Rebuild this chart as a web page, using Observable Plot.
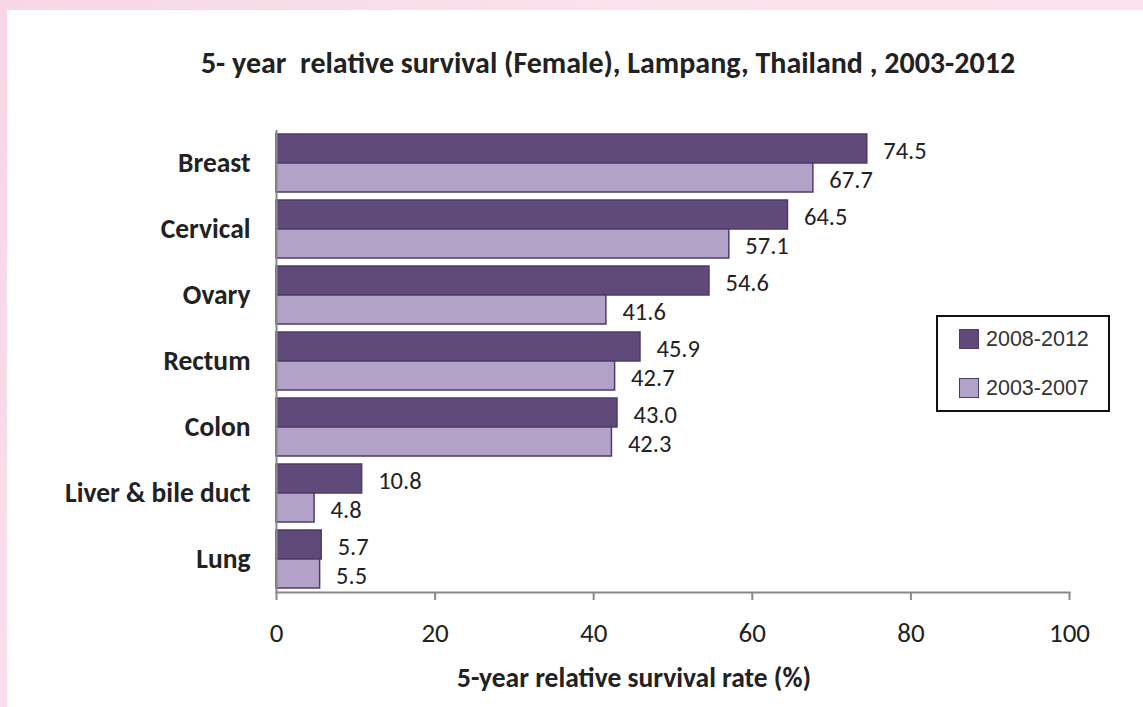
<!DOCTYPE html>
<html>
<head>
<meta charset="utf-8">
<script src="https://cdn.jsdelivr.net/npm/d3@7"></script>
<script src="https://cdn.jsdelivr.net/npm/@observablehq/plot@0.6"></script>
<style>
  html, body { margin: 0; padding: 0; }
  body {
    width: 1143px; height: 707px; overflow: hidden; position: relative;
    background: linear-gradient(120deg, #f8d6e5 0%, #fbe3ee 45%, #fbe0ec 100%);
    font-family: Carlito, Calibri, Lato, "Noto Sans", sans-serif;
  }
  #panel {
    position: absolute; left: 7px; top: 10px; width: 1136px; height: 697px;
    background: #ffffff;
  }
  #title {
    height: 90px; box-sizing: border-box; padding-top: 38px; padding-left: 66px;
    line-height: 30px; font-size: 30px; font-weight: bold; color: #222;
    text-align: center; white-space: pre;
  }
  #xlabel {
    position: absolute; top: 653px; left: 627px; transform: translateX(-50%);
    line-height: 30px; font-size: 27.5px; font-weight: bold; color: #222;
    white-space: nowrap;
  }
  #legend {
    position: absolute; left: 929px; top: 305px; width: 174px; height: 97px;
    box-sizing: border-box; border: 2px solid #111; background: #fff;
    font-family: "Liberation Sans", Arial, sans-serif; font-size: 21.5px; color: #333;
  }
  .item { position: absolute; left: 21px; height: 22px; line-height: 22px; white-space: nowrap; }
  .item span.sw {
    display: inline-block; width: 20px; height: 20px; vertical-align: -3px;
    box-sizing: border-box; border: 1.5px solid #4e3a6c; margin-right: 7px;
  }
</style>
</head>
<body>
<div id="panel">
  <div id="title"></div>
  <div id="chart"></div>
  <div id="xlabel"></div>
  <div id="legend"></div>
</div>
<script>
// Cancer sites, top to bottom
const cancers = ["Breast", "Cervical", "Ovary", "Rectum", "Colon", "Liver & bile duct", "Lung"];
// Diagnosis periods
const periods = ["2008-2012", "2003-2007"];
// 5-year relative survival (%) per site, by period
const survival2008_2012 = [74.5, 64.5, 54.6, 45.9, 43.0, 10.8, 5.7];
const survival2003_2007 = [67.7, 57.1, 41.6, 42.7, 42.3, 4.8, 5.5];
// Axis ticks
const xTicks = [0, 20, 40, 60, 80, 100];

const titleText = "5- year  relative survival (Female), Lampang, Thailand , 2003-2012";
const xLabelText = "5-year relative survival rate (%)";

const darkFill = "#5f4a7a";
const lightFill = "#b2a2c8";
const barStroke = "#4e3a6c";

const rows = cancers.flatMap((c, i) => [
  {cancer: c, period: periods[0], value: survival2008_2012[i]},
  {cancer: c, period: periods[1], value: survival2003_2007[i]}
]);

document.getElementById("title").textContent = titleText;
document.getElementById("xlabel").textContent = xLabelText;

const legend = document.getElementById("legend");
[darkFill, lightFill].forEach((col, i) => {
  const it = document.createElement("div");
  it.className = "item";
  it.style.top = (i === 0 ? 11 : 60) + "px";
  const sw = document.createElement("span");
  sw.className = "sw";
  sw.style.background = col;
  it.appendChild(sw);
  it.appendChild(document.createTextNode(periods[i]));
  legend.appendChild(it);
});

const chart = Plot.plot({
  width: 1136,
  height: 555,
  marginLeft: 269,
  marginRight: 74,
  marginTop: 27,
  marginBottom: 61,
  style: {fontFamily: "Carlito, Calibri, Lato, 'Noto Sans', sans-serif", background: "transparent"},
  x: {domain: [0, 100]},
  fy: {domain: cancers, padding: 0},
  y: {domain: periods, paddingInner: 0, paddingOuter: 0.13, axis: null},
  color: {domain: periods, range: [darkFill, lightFill]},
  marks: [
    Plot.barX(rows, {
      x: "value", y: "period", fy: "cancer",
      fill: "period", stroke: barStroke, strokeWidth: 1.5
    }),
    Plot.text(rows, {
      x: "value", y: "period", fy: "cancer",
      text: d => d.value.toFixed(1),
      textAnchor: "start", dx: 16, dy: 2,
      fontSize: 24.5, fill: "#222"
    }),
    Plot.ruleX([0], {stroke: "#888", strokeWidth: 2}),
    Plot.frame({anchor: "bottom", facetAnchor: "bottom", stroke: "#888", strokeWidth: 2}),
    Plot.axisX({
      ticks: xTicks, tickSize: 8, tickPadding: 22,
      stroke: "#888", strokeWidth: 2, fill: "#222", fontSize: 27, label: null
    }),
    Plot.axisFy({
      anchor: "left", tickSize: 0, tickPadding: 26,
      fontSize: 27.5, fontWeight: "bold", fill: "#222", label: null
    })
  ]
});
document.getElementById("chart").appendChild(chart);
</script>
</body>
</html>
